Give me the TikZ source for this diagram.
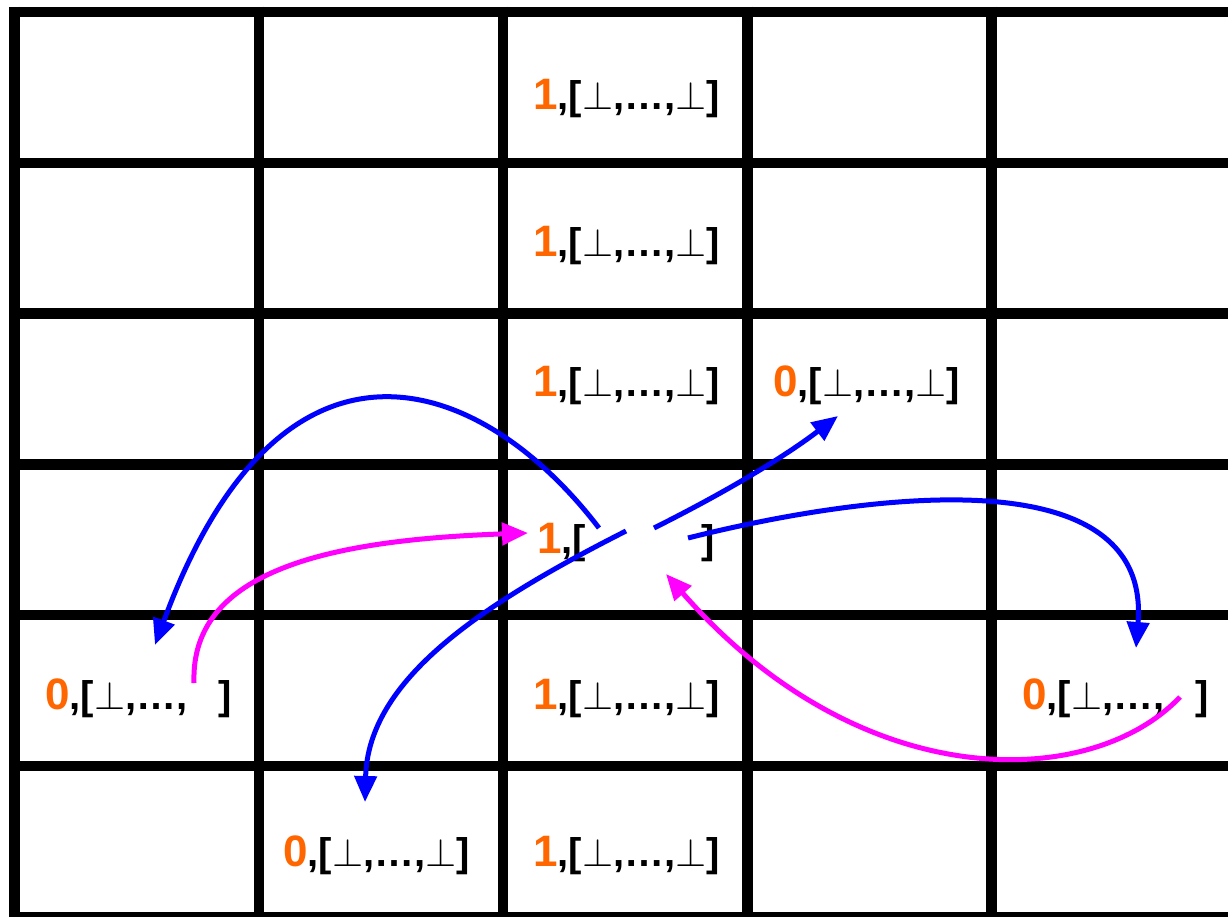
\documentclass[tikz,border=0pt]{standalone}
\usepackage{fontspec}
\setmainfont{Liberation Sans}
\usetikzlibrary{arrows.meta}
\definecolor{orng}{RGB}{255,102,0}
\definecolor{blu}{RGB}{0,0,255}
\definecolor{mag}{RGB}{255,0,255}
\newcommand\bt{{\fontsize{24.88}{25}\selectfont\scalebox{1.608}{$\perp$}}}
\newcommand\celltext[3]{{\fontsize{44}{44}\selectfont\color{orng}#1}{\fontsize{40}{40}\selectfont,[#2,…,#3]}}
\newcommand\celltextgap[1]{{\fontsize{44}{44}\selectfont\color{orng}#1}{\fontsize{40}{40}\selectfont,[\phantom{\bt,…,\bt}\hspace{-9pt}]}}
\tikzset{
  gridline/.style={line width=10.5pt, black},
  lbl/.style={anchor=base west, inner sep=0pt, font=\bfseries},
  barrow/.style={line width=5pt, blu, -{Triangle[length=26pt,width=22pt]}},
  marrow/.style={line width=5pt, mag, -{Triangle[length=26pt,width=22pt]}},
}
\begin{document}
\begin{tikzpicture}[x=1pt,y=-1pt]
\useasboundingbox (0,0) rectangle (1228,917);
\fill[white] (0,0) rectangle (1228,917);
\begin{scope}
\clip (0,0) rectangle (1228,917);
\foreach \x in {14.5,258.8,503.1,747.4,991.7}
  \draw[gridline] (\x,6.75) -- (\x,925);
\foreach \y in {12,162.8,313.6,464.4,615.2,766,917}
  \draw[gridline] (9.25,\y) -- (1240,\y);
\end{scope}
% labels
\node[lbl] (c02) at (533,110) {\celltext{1}{\bt}{\bt}};
\node[lbl] (c12) at (533,257) {\celltext{1}{\bt}{\bt}};
\node[lbl] (c22) at (533,396) {\celltext{1}{\bt}{\bt}};
\node[lbl] (c23) at (773,396) {\celltext{0}{\bt}{\bt}};
\node[lbl] (c32) at (537,553) {\celltextgap{1}};
\node[lbl] (c40) at (45,709) {\celltext{0}{\bt}{\phantom{\bt}}};
\node[lbl] (c42) at (533,709) {\celltext{1}{\bt}{\bt}};
\node[lbl] (c44) at (1022,709) {\celltext{0}{\bt}{\phantom{\bt}}};
\node[lbl] (c51) at (283,866) {\celltext{0}{\bt}{\bt}};
\node[lbl] (c52) at (533,866) {\celltext{1}{\bt}{\bt}};
% arrow endpoints
\coordinate (s1) at (599,528);
\coordinate (t1) at (155,645);
\coordinate (s2) at (654,528);
\coordinate (t2) at (838,416);
\coordinate (s3) at (626,531);
\coordinate (t3) at (365,802);
\coordinate (s4) at (688,538);
\coordinate (t4) at (1136,648);
\coordinate (s5) at (194,683);
\coordinate (t5) at (528,533);
\coordinate (s6) at (1180,697);
\coordinate (t6) at (666,574);
% blue arrows
\draw[barrow] (s1) .. controls (478,370) and (280,305) .. (t1);
\draw[barrow] (s2) .. controls (720,495) and (780,460) .. (t2);
\draw[barrow] (s3) .. controls (480,605) and (368,680) .. (t3);
\draw[barrow] (s4) .. controls (855,496) and (1152,452) .. (t4);
% magenta arrows
\draw[marrow] (s5) .. controls (190,570) and (330,540) .. (t5);
\draw[marrow] (s6) .. controls (1092,790) and (862,798) .. (t6);
\end{tikzpicture}
\end{document}
